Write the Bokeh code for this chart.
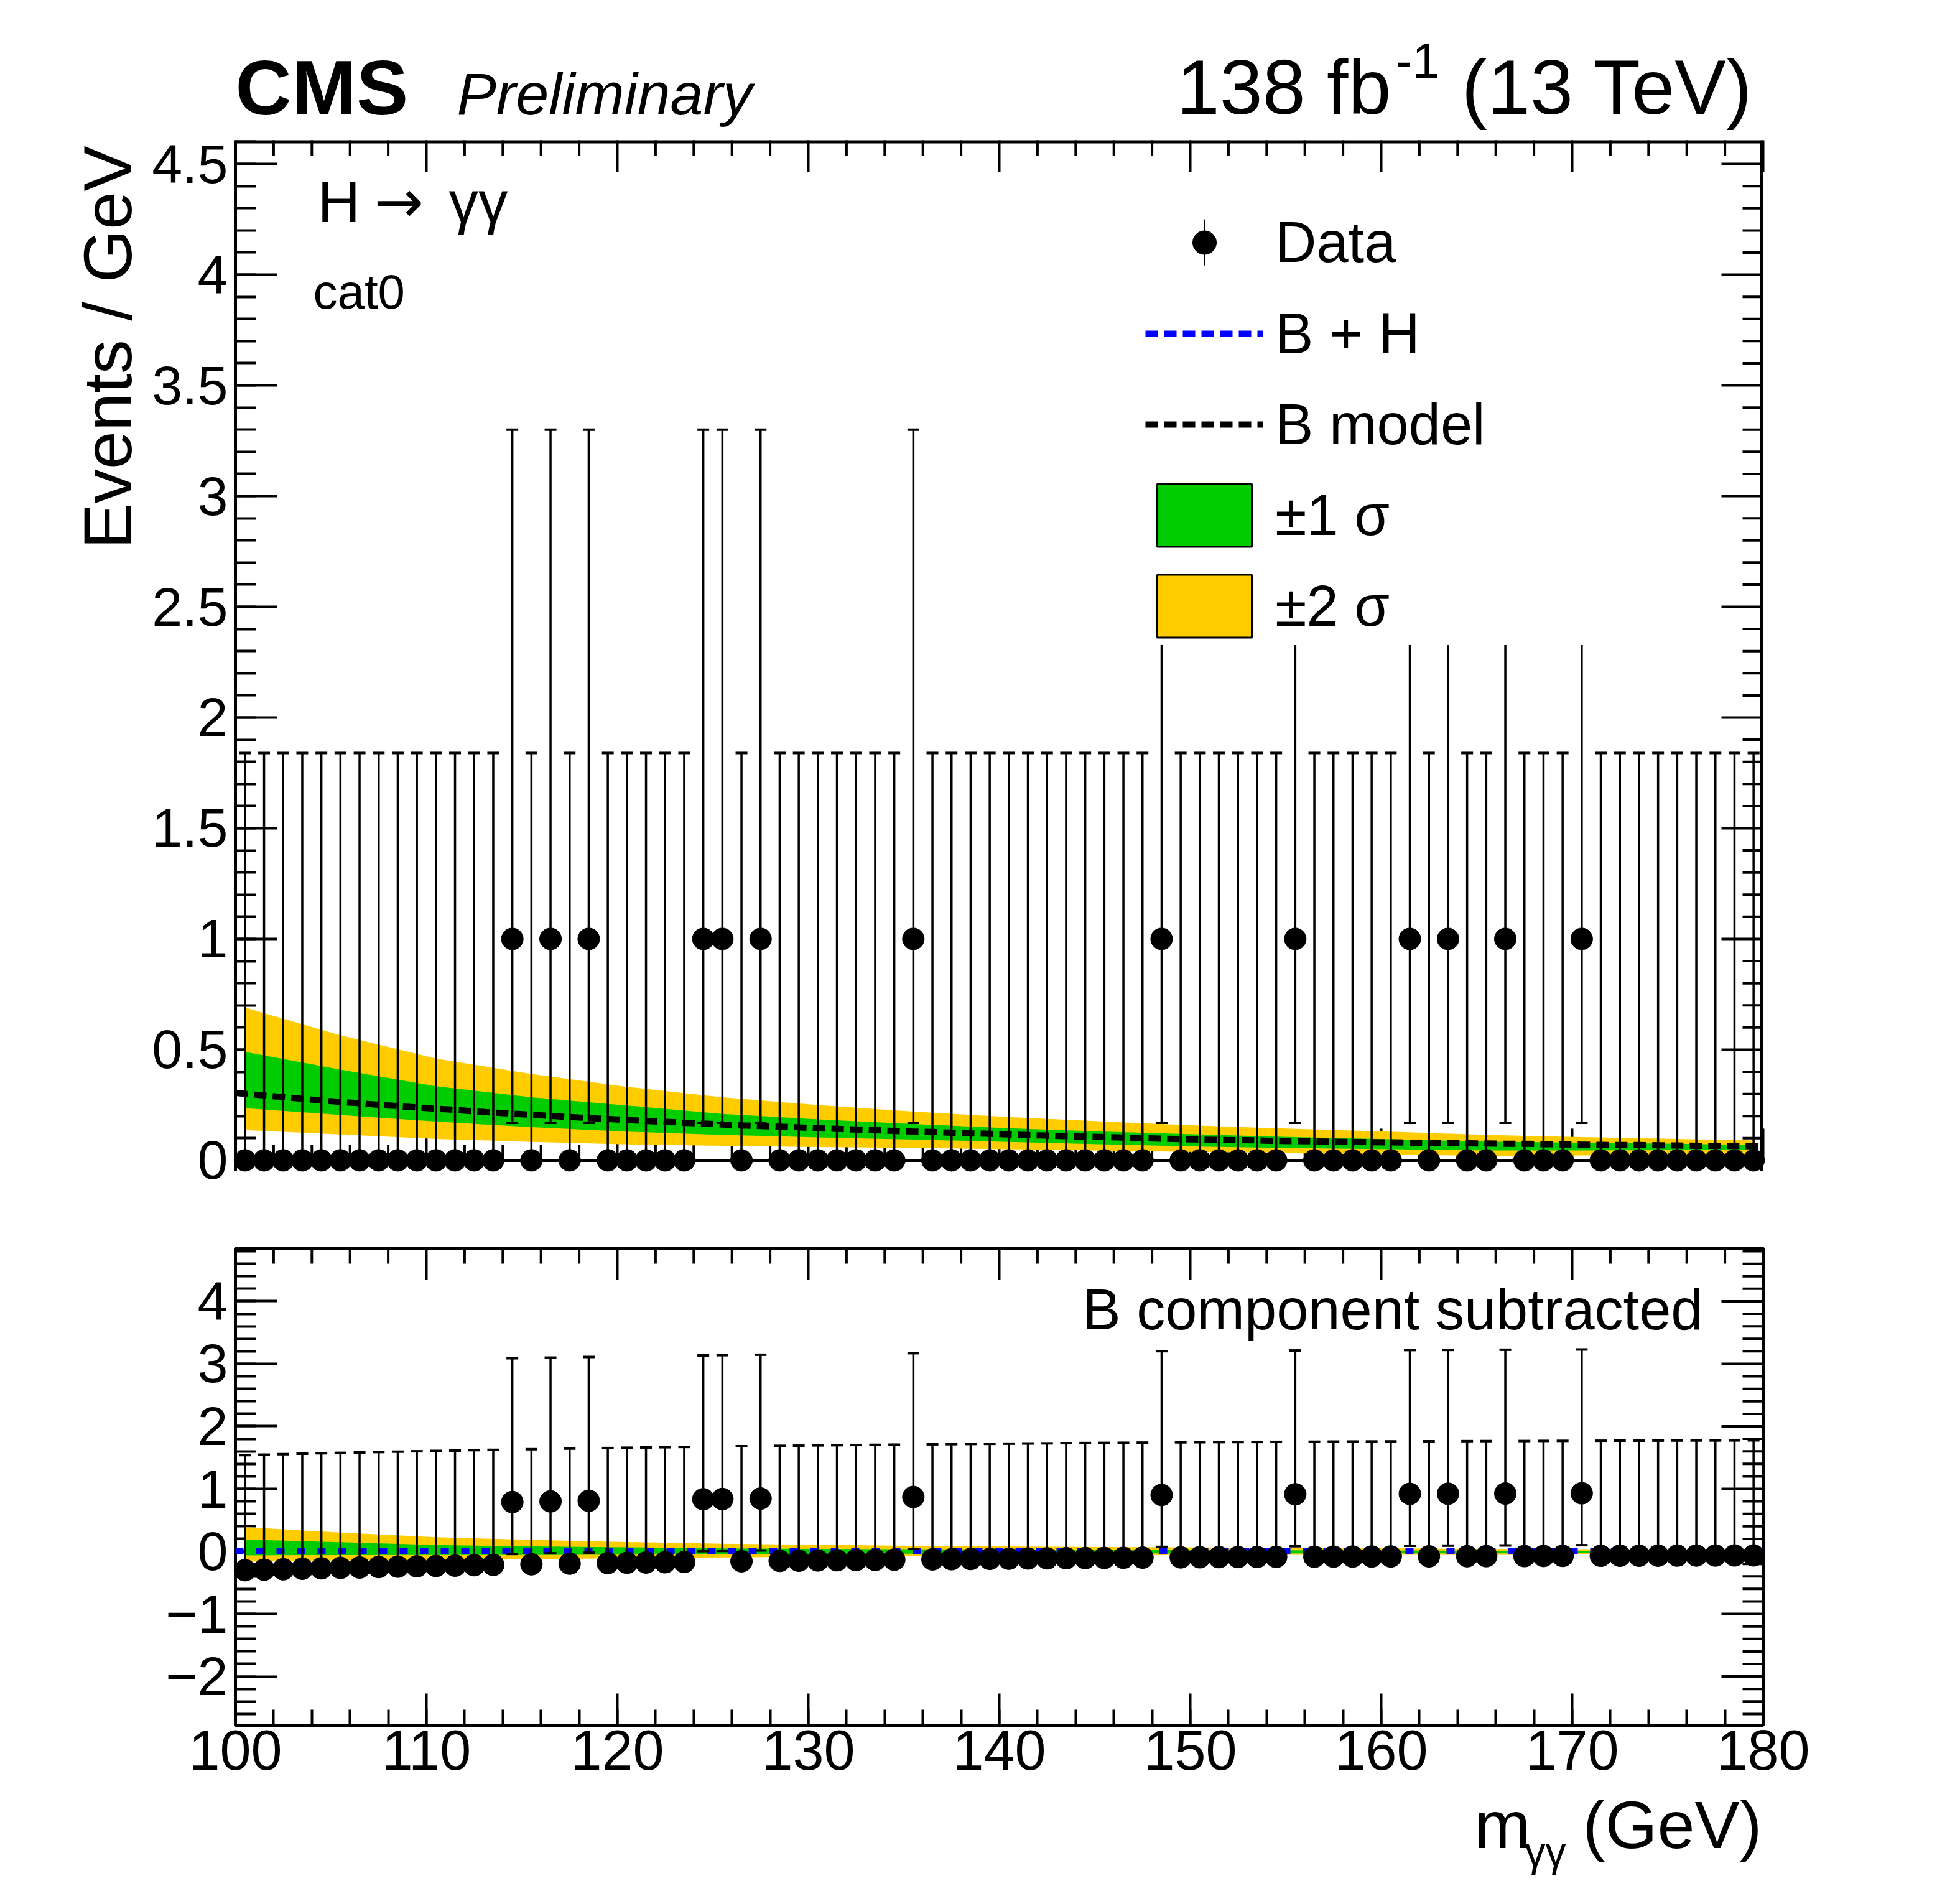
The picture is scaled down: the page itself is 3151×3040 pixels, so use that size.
import numpy as np
from bokeh.plotting import figure
from bokeh.models import (Range1d, LinearAxis, SingleIntervalTicker, CustomJSTickFormatter,
                          ColumnDataSource, Whisker, TeeHead, Label, Legend, LegendItem, Span)
from bokeh.layouts import column, row
from bokeh.embed import file_html
from bokeh.resources import INLINE

FONT = "Liberation Sans"

# ---------------- data ----------------
bin_centers = np.arange(100.5, 180.0, 1.0)
counts = [0, 0, 0, 0, 0, 0, 0, 0, 0, 0,
          0, 0, 0, 0, 1, 0, 1, 0, 1, 0,
          0, 0, 0, 0, 1, 1, 0, 1, 0, 0,
          0, 0, 0, 0, 0, 1, 0, 0, 0, 0,
          0, 0, 0, 0, 0, 0, 0, 0, 1, 0,
          0, 0, 0, 0, 0, 1, 0, 0, 0, 0,
          0, 1, 0, 1, 0, 0, 1, 0, 0, 0,
          1, 0, 0, 0, 0, 0, 0, 0, 0, 0]
err_up_for_count = {0: 1.84, 1: 2.30}
err_dn_for_count = {0: 0.0, 1: 0.83}

# background model read at bin centres (events / GeV)
bkg_model = [0.301, 0.293, 0.286, 0.278, 0.271, 0.264, 0.258, 0.251, 0.245, 0.239,
             0.233, 0.228, 0.221, 0.216, 0.211, 0.206, 0.201, 0.196, 0.191, 0.187,
             0.182, 0.178, 0.174, 0.170, 0.166, 0.162, 0.158, 0.155, 0.152, 0.149,
             0.145, 0.142, 0.139, 0.136, 0.133, 0.130, 0.128, 0.125, 0.122, 0.120,
             0.117, 0.114, 0.112, 0.109, 0.107, 0.105, 0.103, 0.100, 0.098, 0.096,
             0.094, 0.092, 0.091, 0.090, 0.088, 0.087, 0.086, 0.084, 0.083, 0.082,
             0.081, 0.080, 0.079, 0.078, 0.077, 0.076, 0.075, 0.075, 0.073, 0.072,
             0.071, 0.070, 0.069, 0.069, 0.068, 0.067, 0.066, 0.066, 0.065, 0.064]
bkg_at_100 = 0.305
bkg_at_180 = 0.063

# uncertainty bands read at a subset of bin centres
band_idx = [0, 5, 10, 15, 20, 25, 30, 35, 40, 45, 50, 55, 60, 65, 70, 75, 79]
band_2s_hi = [0.69, 0.565, 0.46, 0.39, 0.332, 0.285, 0.25, 0.22, 0.196, 0.175, 0.157,
              0.142, 0.13, 0.115, 0.105, 0.097, 0.09]
band_1s_hi = [0.49, 0.41, 0.335, 0.285, 0.248, 0.21, 0.185, 0.164, 0.145, 0.13, 0.117,
              0.105, 0.095, 0.085, 0.08, 0.075, 0.07]
band_1s_lo = [0.236, 0.205, 0.175, 0.15, 0.13, 0.115, 0.104, 0.094, 0.083, 0.072, 0.062,
              0.055, 0.05, 0.045, 0.045, 0.046, 0.047]
band_2s_lo = [0.137, 0.117, 0.097, 0.083, 0.072, 0.066, 0.06, 0.056, 0.05, 0.044, 0.038,
              0.032, 0.026, 0.02, 0.022, 0.026, 0.03]

# ---------------- derived ----------------
cnt = np.array(counts, dtype=float)
eu = np.array([err_up_for_count[c] for c in counts])
ed = np.array([err_dn_for_count[c] for c in counts])
bkg = np.array(bkg_model)
curve_x = np.concatenate([[100.0], bin_centers, [180.0]])
curve_b = np.concatenate([[bkg_at_100], bkg, [bkg_at_180]])
curve_bh = curve_b.copy()            # B + H (signal negligible in this category)
bx = bin_centers[band_idx]
bb = bkg[band_idx]
b2h, b1h = np.array(band_2s_hi), np.array(band_1s_hi)
b1l, b2l = np.array(band_1s_lo), np.array(band_2s_lo)

# ---------------- geometry (page pixels) ----------------
W = 3145
FL, FR = 378, 2834                 # frame left / right (page x)
FRAME_W = FR - FL
HH = 215                           # header height
WL = 240                           # y-title strip width
Y1_TOP, Y1_EXT = 4.607, 0.048
FRAME_H1 = int(round((Y1_TOP + Y1_EXT) * 356))
T1_TOP = 10
H1 = T1_TOP + FRAME_H1 + 40
FT1 = HH + T1_TOP                  # top frame top (page y)
FB1 = FT1 + FRAME_H1               # top frame bottom (page y)
Y2 = (-2.78, 4.85)
FT2 = 2006
FRAME_H2 = 767
T2_TOP = FT2 - (HH + H1)
T2_BOT = 100
H2 = T2_TOP + FRAME_H2 + T2_BOT
FB2 = FT2 + FRAME_H2
FOOT_TOP = HH + H1 + H2
HF = 3034 - FOOT_TOP
BASE_FIX = 0.38                    # alphabetic baseline correction (fraction of font size)
DESC = 0.212                       # font descent (fraction of font size)

FMT = CustomJSTickFormatter(code="""
const v = Math.round(tick*10)/10;
const s = Math.abs(v).toString();
return (v < 0 ? "\u2212" : "") + s;
""")


def make_axis(interval, maj, mnr):
    ax = LinearAxis(ticker=SingleIntervalTicker(interval=interval, num_minor_ticks=5),
                    formatter=FMT)
    ax.major_tick_in = maj
    ax.major_tick_out = 0
    ax.minor_tick_in = mnr
    ax.minor_tick_out = 0
    ax.major_tick_line_width = 4
    ax.minor_tick_line_width = 4
    ax.major_tick_line_color = "black"
    ax.minor_tick_line_color = "black"
    ax.axis_line_width = 5
    ax.axis_line_color = "black"
    ax.major_label_text_font = FONT
    ax.major_label_text_color = "black"
    ax.major_label_text_font_size = "88px"
    ax.major_label_standoff = 12
    return ax


def lab(text, X, Y, x0, y_bottom, size, align="left", style="normal", angle=0.0,
        font=FONT, baseline="alphabetic"):
    """Label at page position (X, Y) = text anchor on the baseline;
    (x0, y_bottom) = page position of the hosting frame's bottom-left corner."""
    if baseline == "bottom":
        xx, yy = X - x0, y_bottom - Y - DESC * size
    elif angle == 0.0:
        xx, yy = X - x0, y_bottom - Y + BASE_FIX * size
    else:
        xx, yy = X - x0 - BASE_FIX * size, y_bottom - Y
    return Label(x=xx, y=yy, x_units="screen", y_units="screen", text=text,
                 text_font=font, text_font_size=f"{size}px", text_font_style=style,
                 text_align=align, text_baseline=baseline, text_color="black",
                 angle=angle)


def blank_fig(w, h):
    f = figure(width=w, height=h, x_range=Range1d(0, 1), y_range=Range1d(0, 1),
               x_axis_type=None, y_axis_type=None, output_backend="svg",
               toolbar_location=None, min_border=0, outline_line_color=None,
               background_fill_color="white", border_fill_color="white")
    return f


def tick_positions(lo, hi, major, n_minor=5):
    step = major / n_minor
    allt = np.round(np.arange(lo, hi + 1e-9, step), 6)
    maj = np.array([t for t in allt if abs(t / major - round(t / major)) < 1e-6])
    mnr = np.array([t for t in allt if abs(t / major - round(t / major)) >= 1e-6])
    return maj, mnr


def mirror_ticks(p, ppx, ppy, xticks, yticks, x_edge_top, y_bottom_side):
    xmaj, xmin = xticks
    ymaj, ymin = yticks
    segs = dict(x0=[], y0=[], x1=[], y1=[])
    for arr, L in [(xmaj, 51), (xmin, 25)]:
        for t in arr:
            segs["x0"].append(t); segs["x1"].append(t)
            segs["y0"].append(x_edge_top); segs["y1"].append(x_edge_top - L / ppy)
            if y_bottom_side is not None:
                segs["x0"].append(t); segs["x1"].append(t)
                segs["y0"].append(y_bottom_side); segs["y1"].append(y_bottom_side + L / ppy)
    for arr, L in [(ymaj, 67), (ymin, 33)]:
        for t in arr:
            segs["x0"].append(180.0); segs["x1"].append(180.0 - L / ppx)
            segs["y0"].append(t); segs["y1"].append(t)
    p.segment(source=ColumnDataSource(segs), x0="x0", y0="y0", x1="x1", y1="y1",
              line_width=4, line_color="black", level="guide")


PPX = FRAME_W / 80.0

# ================= header (frame aligned with panels: x 378..2834) =================
header = blank_fig(W, HH)
for L in [lab("CMS", 378, 187, FL, HH, 125, style="bold"),
          lab("Preliminary", 734, 187, FL, HH, 95, style="italic"),
          lab("138 fb", 2236, 187, FL, HH, 124, align="right"),
          lab("-1", 2243, 127, FL, HH, 80),
          lab("(13 TeV)", 2818, 187, FL, HH, 124, align="right")]:
    header.add_layout(L)

# ================= y-title strip (frame aligned vertically with top panel) =================
ystrip = blank_fig(WL, H1)
ystrip.add_layout(lab("Events / GeV", 214, 234, 0, FB1, 110, align="right",
                      angle=np.pi / 2))

# ================= top panel =================
top = figure(width=W - WL, height=H1, x_range=Range1d(100, 180),
             y_range=Range1d(-Y1_EXT, Y1_TOP),
             x_axis_type=None, y_axis_type=None, output_backend="svg", toolbar_location=None,
             min_border_left=FL - WL, min_border_right=W - FR, min_border_top=T1_TOP,
             min_border_bottom=H1 - T1_TOP - FRAME_H1, outline_line_color=None,
             background_fill_color="white", border_fill_color="white")
top.add_layout(make_axis(0.5, 67, 33), "left")
PPY1 = FRAME_H1 / (Y1_TOP + Y1_EXT)
mirror_ticks(top, PPX, PPY1, tick_positions(100, 180, 10),
             tick_positions(0, 4.6, 0.5), Y1_TOP, 0.0)

bh_top = top.line(curve_x, curve_bh, line_color="#0000ff", line_width=10, line_dash="20 10")
top.varea(x=bx, y1=b2l, y2=b2h, fill_color="#ffcc00", level="annotation")
top.varea(x=bx, y1=b1l, y2=b1h, fill_color="#00cc00", level="annotation")
b_top = top.line(curve_x, curve_b, line_color="black", line_width=10, line_dash="20 10",
                 level="annotation")
# legend proxies (band boxes with outline)
px = np.concatenate([bx, bx[::-1]])
p1 = top.patch(px, np.concatenate([b1h, b1l[::-1]]), fill_color="#00cc00",
               line_color="black", line_width=3, visible=False)
p2 = top.patch(px, np.concatenate([b2h, b2l[::-1]]), fill_color="#ffcc00",
               line_color="black", line_width=3, visible=False)

top.add_layout(Span(location=0, dimension="width", line_color="black", line_width=5))
top.add_layout(Span(location=Y1_TOP, dimension="width", line_color="black", line_width=10))
top.add_layout(Span(location=180, dimension="height", line_color="black", line_width=10))

src_top = ColumnDataSource(dict(x=bin_centers, y=cnt, hi=cnt + eu, lo=cnt - ed))
top.add_layout(Whisker(source=src_top, base="x", upper="hi", lower="lo", dimension="height",
                       line_width=3.5, line_color="black", level="annotation",
                       upper_head=TeeHead(size=19, line_width=4, line_color="black"),
                       lower_head=TeeHead(size=19, line_width=4, line_color="black")))
# thin vertical ellipses hidden under the markers: give the legend an error-bar stroke
ebar_proxy = top.ellipse(x="x", y="y", width=1.2, height=30, width_units="screen",
                         height_units="screen", source=src_top, fill_color="black",
                         line_color=None, level="annotation")
dots_top = top.scatter("x", "y", source=src_top, size=35, marker="circle", color="black",
                       level="annotation")

leg_common = dict(glyph_width=190, label_standoff=19, padding=0, margin=0,
                  label_text_font=FONT, label_text_font_size="92px",
                  label_text_color="black", border_line_color=None,
                  background_fill_color="white", background_fill_alpha=1.0, label_width=600)
leg1 = Legend(items=[LegendItem(label="Data", renderers=[ebar_proxy, dots_top])],
              location=(1841 - FL, FB1 - 442), glyph_height=95, spacing=0, **leg_common)
leg2 = Legend(items=[LegendItem(label="B + H", renderers=[bh_top]),
                     LegendItem(label="B model", renderers=[b_top]),
                     LegendItem(label="\u00b11 \u03c3", renderers=[p1]),
                     LegendItem(label="\u00b12 \u03c3", renderers=[p2])],
              location=(1841 - FL, FB1 - 1037), glyph_height=126, spacing=20, **leg_common)
top.add_layout(leg1, "center")
top.add_layout(leg2, "center")

for L in [lab("H", 510, 360, FL, FB1, 95),
          lab("\u2192", 601, 360, FL, FB1, 95, font="DejaVu Sans"),
          lab("\u03b3\u03b3", 721, 360, FL, FB1, 95),
          lab("cat0", 503, 498, FL, FB1, 78)]:
    top.add_layout(L)

# ================= bottom panel =================
bot = figure(width=W, height=H2, x_range=Range1d(100, 180), y_range=Range1d(*Y2),
             x_axis_type=None, y_axis_type=None, output_backend="svg", toolbar_location=None,
             min_border_left=FL, min_border_right=W - FR, min_border_top=T2_TOP,
             min_border_bottom=T2_BOT, outline_line_color="black", outline_line_width=5,
             background_fill_color="white", border_fill_color="white")
bot.add_layout(make_axis(1, 67, 33), "left")
xax = make_axis(10, 51, 25)
xax.major_label_text_font_size = "90px"
xax.major_label_standoff = 8
bot.add_layout(xax, "below")
PPY2 = FRAME_H2 / (Y2[1] - Y2[0])
mirror_ticks(bot, PPX, PPY2, tick_positions(100, 180, 10),
             tick_positions(-2.6, 4.8, 1.0), Y2[1], None)

bot.varea(x=bx, y1=b2l - bb, y2=b2h - bb, fill_color="#ffcc00", level="annotation")
bot.varea(x=bx, y1=b1l - bb, y2=b1h - bb, fill_color="#00cc00", level="annotation")
bot.line(curve_x, curve_bh - curve_b, line_color="#0000ff", line_width=10,
         line_dash="13 20", level="annotation")

res = cnt - bkg
src_bot = ColumnDataSource(dict(x=bin_centers, y=res, hi=res + eu, lo=res - ed))
bot.add_layout(Whisker(source=src_bot, base="x", upper="hi", lower="lo", dimension="height",
                       line_width=3.5, line_color="black", level="annotation",
                       upper_head=TeeHead(size=19, line_width=4, line_color="black"),
                       lower_head=TeeHead(size=19, line_width=4, line_color="black")))
bot.scatter("x", "y", source=src_bot, size=35, marker="circle", color="black",
            level="annotation")

bot.add_layout(lab("B component subtracted", 2737, 2139, FL, FB2, 92, align="right"))

# ================= footer (x title; frame aligned x 378..2834) =================
footer = blank_fig(W, HF)
for L in [lab("m", 2370, 2971, FL, FOOT_TOP + HF, 108, baseline="bottom"),
          lab("\u03b3\u03b3", 2451, 3000, FL, FOOT_TOP + HF, 66, baseline="bottom"),
          lab("(GeV)", 2832, 2971, FL, FOOT_TOP + HF, 108, align="right",
              baseline="bottom")]:
    footer.add_layout(L)

layout = column(header, row(ystrip, top, spacing=0), bot, footer, spacing=0)
with open("out.html", "w") as f:
    f.write(file_html(layout, INLINE))
